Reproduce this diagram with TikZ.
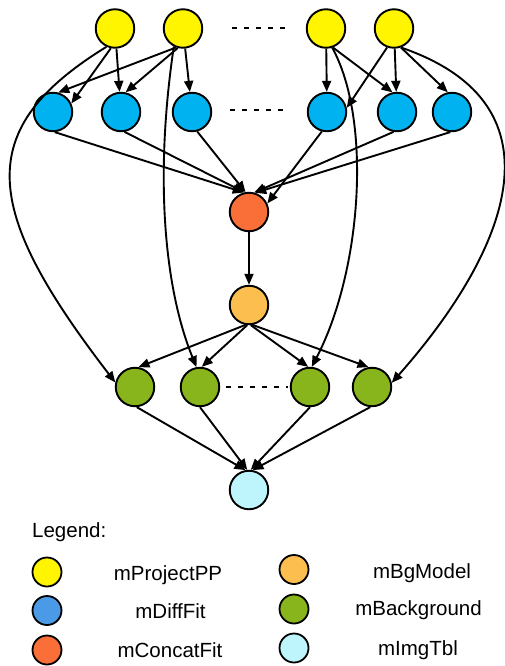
\documentclass[tikz,border=0pt]{standalone}
\usepackage{fontspec}
\setmainfont{Liberation Sans}
\usetikzlibrary{arrows.meta}
% job colours
\definecolor{cproj}{RGB}{255,245,0}
\definecolor{cdiff}{RGB}{0,178,240}
\definecolor{cdiffkey}{RGB}{74,154,232}
\definecolor{cconcat}{RGB}{250,110,55}
\definecolor{cbgmodel}{RGB}{253,190,80}
\definecolor{cbg}{RGB}{136,180,28}
\definecolor{cimg}{RGB}{190,245,252}
\begin{document}
\begin{tikzpicture}[x=1pt,y=-1pt,
  job/.style={circle,draw=black,line width=1.9pt,minimum size=38.5pt,inner sep=0pt},
  key/.style={circle,draw=black,line width=1.8pt,minimum size=29pt,inner sep=0pt},
  flow/.style={line width=1.9pt,-{Triangle[length=11pt,width=9pt]}},
  gap/.style={line width=2pt,dash pattern=on 5pt off 7pt},
  lbl/.style={anchor=base,inner sep=0pt,font=\fontsize{20.5}{24}\selectfont}]
\useasboundingbox[fill=white] (0,0) rectangle (504,666);

% mProjectPP row
\node[job,fill=cproj] (y1) at (115,28.5) {};
\node[job,fill=cproj] (y2) at (183,28.5) {};
\node[job,fill=cproj] (y3) at (326,28.5) {};
\node[job,fill=cproj] (y4) at (394,28.5) {};
% mDiffFit row
\node[job,fill=cdiff] (b1) at (53,112) {};
\node[job,fill=cdiff] (b2) at (121,112) {};
\node[job,fill=cdiff] (b3) at (192,112) {};
\node[job,fill=cdiff] (b4) at (327,112) {};
\node[job,fill=cdiff] (b5) at (397,112) {};
\node[job,fill=cdiff] (b6) at (452,112) {};
% single jobs
\node[job,fill=cconcat] (c) at (249,212) {};
\node[job,fill=cbgmodel] (m) at (249,305) {};
% mBackground row
\node[job,fill=cbg] (g1) at (135,387) {};
\node[job,fill=cbg] (g2) at (200,387) {};
\node[job,fill=cbg] (g3) at (310,387) {};
\node[job,fill=cbg] (g4) at (372,387) {};
\node[job,fill=cimg] (i) at (249,490) {};

% elided jobs
\draw[gap] (232,28.5) -- (290,28.5);
\draw[gap] (230,110) -- (288,110);
\draw[gap] (226,387) -- (288,387);

% mProjectPP -> mDiffFit
\draw[flow] (y1.258) -- (b1.25);
\draw[flow] (y1) -- (b2);
\draw[flow] (y2.250) -- (b1.75);
\draw[flow] (y2.255) -- (b2.77);
\draw[flow] (y2) -- (b3);
\draw[flow] (y3) -- (b4);
\draw[flow] (y3.290) -- (b5.103);
\draw[flow] (y4.250) -- (b4.12);
\draw[flow] (y4) -- (b5);
\draw[flow] (y4.290) -- (b6.102);

% mProjectPP -> mBackground
\draw[flow] (y1.245) .. controls (-27,129) and (-19,208) .. (g1.167);
\draw[flow] (y2.243) .. controls (154,180) and (165,290) .. (g2.100);
\draw[flow] (y3.288) .. controls (372,120) and (362,270) .. (g3.85);
\draw[flow] (y4.290) .. controls (572,106) and (503,257) .. (g4.12);

% mDiffFit -> mConcatFit
\draw[flow] (b1.275) -- (c.105);
\draw[flow] (b2.280) -- (c.103);
\draw[flow] (b3.285) -- (c.100);
\draw[flow] (b4.255) -- (c.25);
\draw[flow] (b5.260) -- (c.75);
\draw[flow] (b6.265) -- (c.72);

\draw[flow] (c) -- (m);

% mBgModel -> mBackground
\draw[flow] (m.260) -- (g1.80);
\draw[flow] (m.265) -- (g2.85);
\draw[flow] (m.275) -- (g3.95);
\draw[flow] (m.280) -- (g4.100);

% mBackground -> mImgTbl
\draw[flow] (g1.275) -- (i.100);
\draw[flow] (g2.270) -- (i.95);
\draw[flow] (g3.270) -- (i.85);
\draw[flow] (g4.265) -- (i.80);

% legend
\node[lbl,anchor=base west] (legend) at (32,537) {Legend:};
\node[key,fill=cproj] (k1) at (47,572) {};
\node[key,fill=cdiffkey] (k2) at (47,610.5) {};
\node[key,fill=cconcat] (k3) at (47,650) {};
\node[key,fill=cbgmodel] (k4) at (294,569.5) {};
\node[key,fill=cbg] (k5) at (294,609) {};
\node[key,fill=cimg] (k6) at (294,648) {};
\node[lbl] (t1) at (168,580) {mProjectPP};
\node[lbl] (t2) at (170.5,618) {mDiffFit};
\node[lbl] (t3) at (170,657) {mConcatFit};
\node[lbl] (t4) at (422,578) {mBgModel};
\node[lbl] (t5) at (418.5,615) {mBackground};
\node[lbl] (t6) at (418,655) {mImgTbl};
\end{tikzpicture}
\end{document}
